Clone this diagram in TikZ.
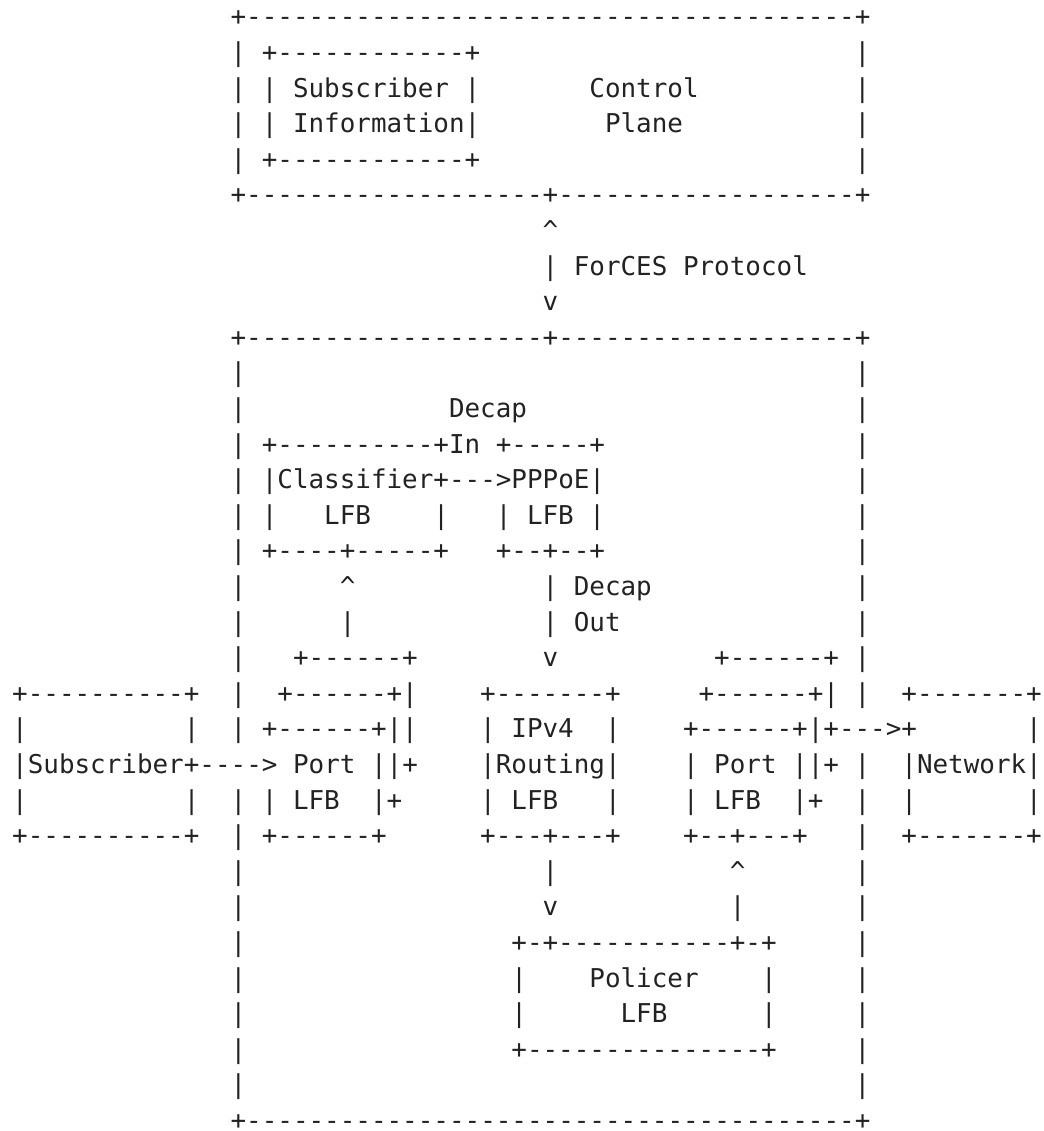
\documentclass[tikz,border=0pt]{standalone}
\usepackage{fontspec}
\setmonofont{DejaVu Sans Mono}
\definecolor{ink}{HTML}{222222}
\tikzset{
  asc/.style={font=\ttfamily\fontsize{12.96pt}{17.8pt}\selectfont, text=ink,
              anchor=base west, inner sep=0pt, outer sep=0pt}
}
\newcommand{\up}{\textasciicircum}
\begin{document}
% one unit in x = one character cell, one unit in y = one text line
\begin{tikzpicture}[x=7.8pt, y=-17.8pt]
\useasboundingbox (-0.782,-0.730) rectangle (66.08,31.04);
\foreach \r/\c/\t in {
  0/14/+---------------------------------------+,
  1/14/| +------------+, 1/54/|,
  2/14/| | Subscriber |, 2/37/Control, 2/54/|,
  3/14/| | Information|, 3/38/Plane, 3/54/|,
  4/14/| +------------+, 4/54/|,
  5/14/+-------------------+-------------------+,
  6/34/\up,
  7/34/| ForCES Protocol,
  8/34/v,
  9/14/+-------------------+-------------------+,
  10/14/|, 10/54/|,
  11/14/|, 11/28/Decap, 11/54/|,
  12/14/| +----------+In +-----+, 12/54/|,
  13/14/| |Classifier+--->PPPoE|, 13/54/|,
  14/14/| |, 14/20/LFB, 14/27/|, 14/31/| LFB |, 14/54/|,
  15/14/| +----+-----+, 15/31/+--+--+, 15/54/|,
  16/14/|, 16/21/\up, 16/34/| Decap, 16/54/|,
  17/14/|, 17/21/|, 17/34/| Out, 17/54/|,
  18/14/|, 18/18/+------+, 18/34/v, 18/45/+------+ |,
  19/0/+----------+, 19/14/|, 19/17/+------+|, 19/30/+-------+, 19/44/+------+| |, 19/57/+-------+,
  20/0/|, 20/11/|, 20/14/| +------+||, 20/30/| IPv4, 20/38/|, 20/43/+------+|+--->+, 20/65/|,
  21/0/|Subscriber+----> Port ||+, 21/30/|Routing|, 21/43/| Port ||+ |, 21/57/|Network|,
  22/0/|, 22/11/|, 22/14/| | LFB, 22/23/|+, 22/30/| LFB, 22/38/|, 22/43/| LFB, 22/50/|+, 22/54/|, 22/57/|, 22/65/|,
  23/0/+----------+, 23/14/| +------+, 23/30/+---+---+, 23/43/+--+---+, 23/54/|, 23/57/+-------+,
  24/14/|, 24/34/|, 24/46/\up, 24/54/|,
  25/14/|, 25/34/v, 25/46/|, 25/54/|,
  26/14/|, 26/32/+-+-----------+-+, 26/54/|,
  27/14/|, 27/32/|, 27/37/Policer, 27/48/|, 27/54/|,
  28/14/|, 28/32/|, 28/39/LFB, 28/48/|, 28/54/|,
  29/14/|, 29/32/+---------------+, 29/54/|,
  30/14/|, 30/54/|,
  31/14/+---------------------------------------+%
}{
  \node[asc] (t\r-\c) at (\c,\r) {\t};
}
\end{tikzpicture}
\end{document}
